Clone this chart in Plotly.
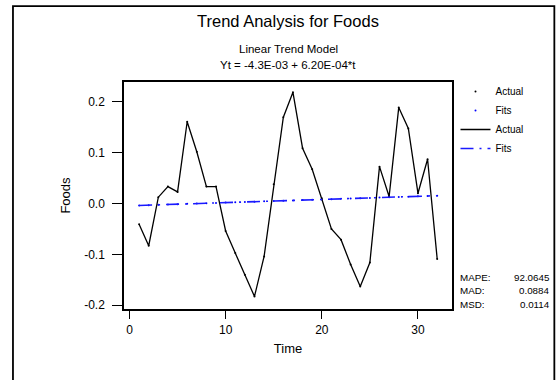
import plotly.graph_objects as go

# ---------------- data ----------------
time = list(range(1, 33))
actual = [-0.0405, -0.083, 0.0126, 0.0334, 0.023, 0.161, 0.102, 0.0334, 0.0334, -0.054,
          -0.0975, -0.140, -0.1827, -0.104, 0.038, 0.170, 0.219, 0.109, 0.0675, 0.0105,
          -0.050, -0.071, -0.120, -0.163, -0.116, 0.0727, 0.0138, 0.189, 0.148, 0.0204,
          0.0872, -0.109]
fits = [-0.00368, -0.00306, -0.00244, -0.00182, -0.00120, -0.00058, 0.00004, 0.00066,
        0.00128, 0.00190, 0.00252, 0.00314, 0.00376, 0.00438, 0.00500, 0.00562,
        0.00624, 0.00686, 0.00748, 0.00810, 0.00872, 0.00934, 0.00996, 0.01058,
        0.01120, 0.01182, 0.01244, 0.01306, 0.01368, 0.01430, 0.01492, 0.01554]
x_ticks = [0, 10, 20, 30]
y_ticks = [-0.2, -0.1, 0.0, 0.1, 0.2]
y_tick_labels = ["-0.2", "-0.1", "0.0", "0.1", "0.2"]
stat_names = ["MAPE:", "MAD:", "MSD:"]
stat_values = ["92.0645", "0.0884", "0.0114"]

title = "Trend Analysis for Foods"
subtitle1 = "Linear Trend Model"
subtitle2 = "Yt = -4.3E-03 + 6.20E-04*t"

# ---------------- layout geometry (pixels) ----------------
W, H = 558, 380
L, R, T, B = 124, 452.5, 82, 309.5
FONT = "Liberation Sans, Arial, sans-serif"


def px(x):
    return (x - L) / (R - L)


def py(y):
    return (B - y) / (B - T)


fig = go.Figure()
# legend entries: symbols then lines
fig.add_trace(go.Scatter(x=time, y=actual, mode="markers", name="Actual",
                         marker=dict(color="black", size=2)))
fig.add_trace(go.Scatter(x=time, y=fits, mode="markers", name="Fits",
                         marker=dict(color="#0000ff", size=2)))
fig.add_trace(go.Scatter(x=time, y=actual, mode="lines", name="Actual",
                         line=dict(color="black", width=1.3)))
fig.add_trace(go.Scatter(x=time, y=fits, mode="lines", name="Fits",
                         line=dict(color="#1a1aff", width=1.6, dash="13px,6px,2px,6px")))

annotations = [
    dict(text=title, x=0.5, y=py(21), font=dict(size=16.5)),
    dict(text=subtitle1, x=0.5, y=py(49), font=dict(size=11.5)),
    dict(text=subtitle2, x=0.5, y=py(65), font=dict(size=11.5)),
]
for i, (n, v) in enumerate(zip(stat_names, stat_values)):
    yy = py(277.7 + i * 13.5)
    annotations.append(dict(text=n, x=px(459), y=yy, xanchor="left", font=dict(size=9.8)))
    annotations.append(dict(text=v, x=px(553), y=yy, xanchor="right", font=dict(size=9.8)))
for a in annotations:
    a.update(xref="paper", yref="paper", showarrow=False, yanchor="middle")
    a.setdefault("xanchor", "center")
    a["font"].update(family=FONT, color="black")

fig.update_layout(
    width=W, height=H,
    margin=dict(l=L, r=W - R, t=T, b=H - B, pad=0),
    paper_bgcolor="white", plot_bgcolor="white",
    font=dict(family=FONT, color="black", size=12),
    showlegend=True,
    legend=dict(x=px(456), y=py(77), xanchor="left", yanchor="top",
                bgcolor="rgba(0,0,0,0)", borderwidth=0,
                font=dict(size=10, family=FONT), tracegroupgap=0,
                itemclick=False),
    annotations=annotations,
    shapes=[dict(type="rect", xref="paper", yref="paper",
                 x0=px(12.8), x1=px(555), y0=py(6), y1=py(395),
                 line=dict(color="black", width=1.8), fillcolor="rgba(0,0,0,0)", layer="below")],
)
fig.update_xaxes(range=[-0.57, 33.54], tickvals=x_ticks, ticks="outside", ticklen=8,
                 tickwidth=1.3, tickcolor="black", showline=True, linecolor="black",
                 linewidth=1.5, mirror=True, showgrid=False, zeroline=False,
                 tickfont=dict(size=12), ticklabelstandoff=1,
                 title=dict(text="Time", font=dict(size=13), standoff=8))
fig.update_yaxes(range=[-0.2075, 0.2393], tickvals=y_ticks, ticktext=y_tick_labels,
                 ticks="outside", ticklen=10, tickwidth=1.3, tickcolor="black",
                 showline=True, linecolor="black", linewidth=1.5, mirror=True,
                 showgrid=False, zeroline=False, tickfont=dict(size=12),
                 ticklabelstandoff=5,
                 title=dict(text="Foods", font=dict(size=13), standoff=11))

# remove the browser's default 8px body margin (and any scrollbars) so the
# figure sits exactly at the page origin
fig.write_html("out.html", config={"displayModeBar": False},
               post_script="document.body.style.margin='0';"
                           "document.body.style.overflow='hidden';")
